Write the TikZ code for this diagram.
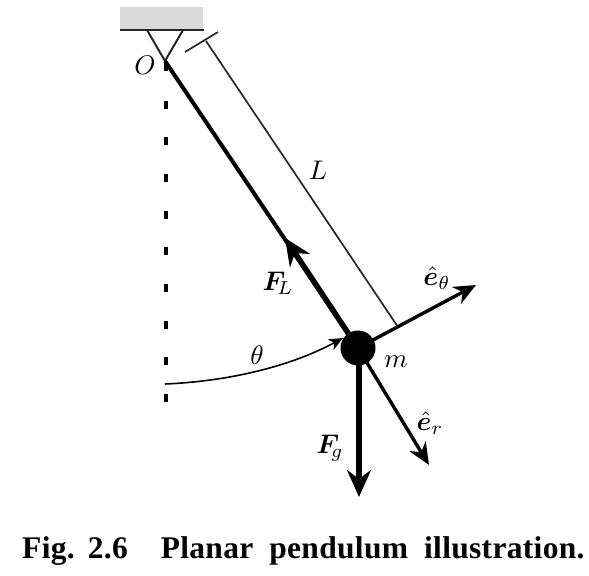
\documentclass[tikz,border=0pt]{standalone}
\usepackage{fontspec}
\usepackage{amsmath,bm}
\newfontfamily\capfont[LetterSpace=1]{Liberation Serif}
\usetikzlibrary{arrows.meta}
\newcommand{\biglab}[1]{\scalebox{2.7}{#1}}
\tikzset{
  force/.style={line width=5.5bp,-{Stealth[length=27bp,width=24bp,inset=9bp]}},
  unitvec/.style={line width=3.4bp,-{Stealth[length=22bp,width=19bp,inset=7bp]}},
  thin line/.style={line width=1.7bp,draw=black!85},
  lab/.style={inner sep=0pt}
}
\begin{document}
\begin{tikzpicture}[x=1bp,y=-1bp]
\useasboundingbox (0,0) rectangle (589,576);
\fill[black!15] (120,7) rectangle (203,30);
\coordinate (wl) at (120,30);
\coordinate (wr) at (204,30);
\coordinate (vl) at (147,30);
\coordinate (vr) at (183,30);
\coordinate (O) at (165,61);
\node[circle,fill=black,minimum size=35bp,inner sep=0pt] (bob) at (358,348) {};
\draw[line width=2.2bp,draw=black!85] (wl) -- (wr);
\draw[thin line,line width=2bp] (vl) -- (O) -- (vr);
\draw[line width=4bp] (O) -- (bob.center);
\foreach \y in {67.5,105,141.5,178,214.5,251,288,324.5,361,397.5}{
  \fill (164,\y-4) rectangle (168,\y+4);
}
\coordinate (capl) at (185,52);
\coordinate (capr) at (218,32);
\coordinate (capm) at (206,41);
\coordinate (foot) at (398,327);
\draw[thin line] (capl) -- (capr);
\draw[thin line] (capm) -- (foot);
\coordinate (FLtip) at (285,238);
\coordinate (Fgtip) at (359,497);
\coordinate (ertip) at (429,465);
\coordinate (ethtip) at (476,285);
\draw[force] (bob.center) -- (FLtip);
\draw[force] (359,348) -- (Fgtip);
\draw[unitvec] (bob.center) -- (ertip);
\draw[unitvec] (bob.center) -- (ethtip);
\coordinate (arcs) at (165,384);
\coordinate (arce) at (343,338);
\draw[line width=1.6bp,-{Stealth[length=14bp,width=12bp,inset=4bp]}] (arcs) .. controls (235,381) and (295,364) .. (arce);
\node[lab] (lO) at (145,65) {\biglab{$O$}};
\node[lab] (lL) at (318,170) {\biglab{$L$}};
\node[lab] (lFL) at (278,283) {\biglab{$\bm{F}_{\!L}$}};
\node[lab] (lth) at (257,355) {\biglab{$\theta$}};
\node[lab] (lm) at (396,362) {\biglab{$m$}};
\node[lab] (leth) at (437,278) {\biglab{$\hat{\bm{e}}_\theta$}};
\node[lab] (ler) at (430,423) {\biglab{$\hat{\bm{e}}_r$}};
\node[lab] (lFg) at (330,448) {\biglab{$\bm{F}_{\!g}$}};
\node[inner sep=0pt,anchor=base west] (cap) at (22,558) {\capfont\bfseries\fontsize{31.5bp}{34bp}\selectfont Fig.\hspace{13bp}2.6\hspace{33bp}Planar\hspace{16bp}pendulum\hspace{16bp}illustration.};
\end{tikzpicture}
\end{document}
